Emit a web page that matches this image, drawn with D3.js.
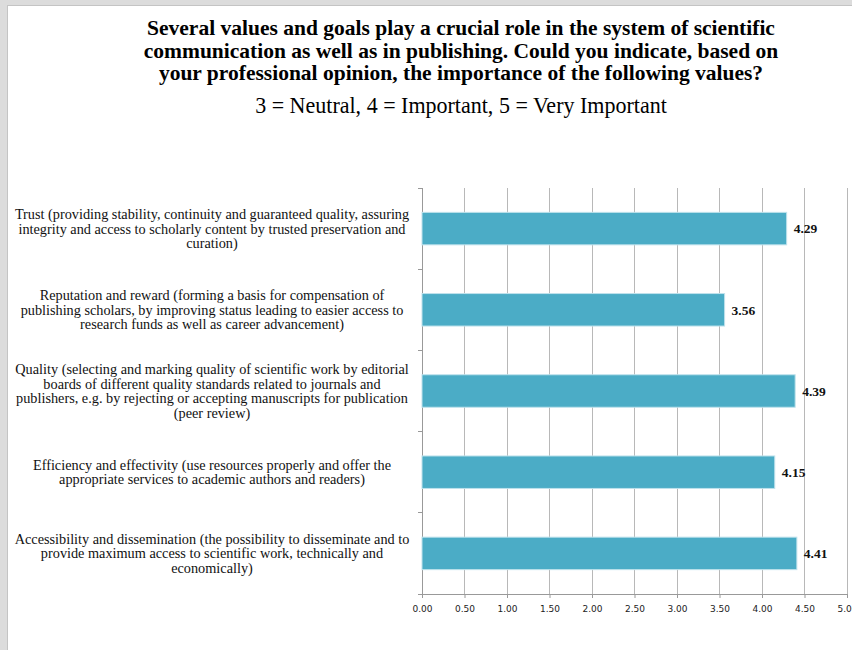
<!DOCTYPE html>
<html>
<head>
<meta charset="utf-8">
<script src="https://cdn.jsdelivr.net/npm/d3@7"></script>
<style>
  html, body { margin: 0; padding: 0; background: #fff; overflow: hidden; }
  svg { display: block; }
</style>
</head>
<body>
<svg id="chart" width="852" height="650"></svg>
<script>
// ---- Data ----
const categories = [
  "Trust (providing stability, continuity and guaranteed quality, assuring|integrity and access to scholarly content by trusted preservation and|curation)",
  "Reputation and reward (forming a basis for compensation of|publishing scholars, by improving status leading to easier access to|research funds as well as career advancement)",
  "Quality (selecting and marking quality of scientific work by editorial|boards of different quality standards related to journals and|publishers, e.g. by rejecting or accepting manuscripts for publication|(peer review)",
  "Efficiency and effectivity (use resources properly and offer the|appropriate services to academic authors and readers)",
  "Accessibility and dissemination (the possibility to disseminate and to|provide maximum access to scientific work, technically and|economically)"
];
const values = [4.29, 3.56, 4.39, 4.15, 4.41];
const xTicks = [0, 0.5, 1, 1.5, 2, 2.5, 3, 3.5, 4, 4.5, 5];
const titleLines = [
  "Several values and goals play a crucial role in the system of scientific",
  "communication as well as in publishing. Could you indicate, based on",
  "your professional opinion, the importance of the following values?"
];
const subtitle = "3 = Neutral, 4 = Important, 5 = Very Important";

// ---- Layout ----
const svg = d3.select("#chart");
const W = 852, H = 650;
const plot = { left: 422, right: 847, top: 188, bottom: 594 };
const serif = "'Liberation Serif', 'DejaVu Serif', serif";
const sans = "'DejaVu Sans', Verdana, sans-serif";

// frame (viewer page shadow)
svg.append("rect").attr("x", 0).attr("y", 0).attr("width", W).attr("height", H).attr("fill", "#dcdcdc");
svg.append("rect").attr("x", 7).attr("y", 5).attr("width", W).attr("height", H).attr("fill", "#c4c4c4");
svg.append("rect").attr("x", 8).attr("y", 6).attr("width", W).attr("height", H).attr("fill", "#ffffff");

const x = d3.scaleLinear().domain([0, 5]).range([plot.left, plot.right]);
const y = d3.scaleBand().domain(d3.range(categories.length))
  .range([plot.top, plot.bottom]).paddingInner(0.6).paddingOuter(0.3);

// gridlines
svg.append("g").selectAll("line").data(xTicks.slice(1)).join("line")
  .attr("x1", d => x(d)).attr("x2", d => x(d))
  .attr("y1", plot.top).attr("y2", plot.bottom)
  .attr("stroke", "#b8b8b8").attr("stroke-width", 1).attr("shape-rendering", "crispEdges");

// bottom axis
const xAxis = d3.axisBottom(x).tickValues(xTicks).tickFormat(d3.format(".2f")).tickSize(4).tickPadding(8);
const gx = svg.append("g").attr("transform", `translate(0,${plot.bottom})`).call(xAxis);
gx.select(".domain").attr("stroke", "#999").attr("d", `M${plot.left - 4},0.5H${plot.right}`);
gx.selectAll(".tick line").attr("stroke", "#999");
gx.selectAll(".tick text").attr("font-family", sans).attr("font-size", 9).attr("fill", "#222");

// left axis: category band boundary ticks
const bounds = d3.range(categories.length + 1).map(i => plot.top + i * y.step());
svg.append("line").attr("x1", plot.left).attr("x2", plot.left)
  .attr("y1", plot.top).attr("y2", plot.bottom).attr("stroke", "#999").attr("shape-rendering", "crispEdges");
svg.append("g").selectAll("line").data(bounds).join("line")
  .attr("x1", plot.left - 4).attr("x2", plot.left)
  .attr("y1", d => d).attr("y2", d => d)
  .attr("stroke", "#999").attr("shape-rendering", "crispEdges");

// bars
svg.append("g").selectAll("rect").data(values).join("rect")
  .attr("x", x(0)).attr("y", (d, i) => y(i))
  .attr("width", d => x(d) - x(0)).attr("height", y.bandwidth())
  .attr("fill", "#4bacc6").attr("stroke", "#bfe2ec").attr("stroke-width", 1);

// value labels
svg.append("g").selectAll("text").data(values).join("text")
  .attr("x", d => x(d) + 7).attr("y", (d, i) => y(i) + y.bandwidth() / 2)
  .attr("dy", "0.35em")
  .attr("font-family", serif).attr("font-weight", "bold").attr("font-size", 13.5).attr("fill", "#111")
  .text(d => d.toFixed(2));

// category labels
const labelCx = 212, lineH = 14.5;
const labG = svg.append("g");
categories.forEach((c, i) => {
  const lines = c.split("|");
  const cy = y(i) + y.bandwidth() / 2;
  const t = labG.append("text").attr("font-family", serif).attr("font-size", 12)
    .attr("fill", "#111").attr("text-anchor", "middle");
  lines.forEach((ln, j) => {
    t.append("tspan").attr("x", labelCx)
      .attr("y", cy + (j - (lines.length - 1) / 2) * lineH)
      .attr("dy", "0.35em").text(ln);
  });
});
// fit label size: widest line spans ~395px
(function () {
  let maxW = 0;
  labG.selectAll("tspan").each(function () { maxW = Math.max(maxW, this.getComputedTextLength()); });
  const fs = 12 * 395 / maxW;
  labG.selectAll("text").attr("font-size", fs);
})();

// title
const titleG = svg.append("g");
const tt = titleG.append("text").attr("font-family", serif).attr("font-weight", "bold")
  .attr("font-size", 18).attr("text-anchor", "middle").attr("fill", "#000");
titleLines.forEach((ln, j) => {
  tt.append("tspan").attr("x", 461).attr("y", 35 + j * 22.5).text(ln);
});
(function () {
  let w0 = tt.select("tspan").node().getComputedTextLength();
  tt.attr("font-size", 18 * 628 / w0);
})();

const st = svg.append("text").attr("font-family", serif).attr("font-size", 19)
  .attr("text-anchor", "middle").attr("x", 461).attr("y", 113).attr("fill", "#000").text(subtitle);
(function () {
  const w0 = st.node().getComputedTextLength();
  st.attr("font-size", 19 * 412 / w0);
})();
</script>
</body>
</html>
